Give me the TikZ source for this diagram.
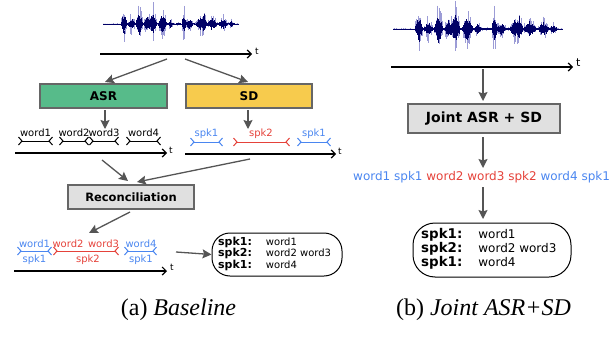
\documentclass[tikz,border=0pt]{standalone}
\usepackage{fontspec}
\setmainfont{DejaVu Sans}
\newfontfamily\capfont{Liberation Serif}
\usetikzlibrary{arrows.meta,positioning}
\definecolor{spkblue}{HTML}{4A86F0}
\definecolor{spkred}{HTML}{E5423A}
\definecolor{asrgreen}{HTML}{57BB8A}
\definecolor{sdyellow}{HTML}{F7CB4D}
\definecolor{recgray}{HTML}{E0E0E0}
\definecolor{boxgray}{HTML}{666666}
\definecolor{flowgray}{HTML}{555555}
\definecolor{wavelight}{HTML}{9C9CD6}
\definecolor{wavedark}{HTML}{000066}
\tikzset{
  flow/.style={draw=flowgray, line width=1.3pt, -{Stealth[length=9pt,width=9pt,inset=1.5pt]}},
  timeaxis/.style={line width=1.2pt, -{Straight Barb[length=4pt,width=8pt]}},
  seg/.style={line width=1pt, {Straight Barb[reversed,length=3.5pt,width=8pt]}-{Straight Barb[reversed,length=3.5pt,width=8pt]}},
  stagebox/.style={draw=boxgray, line width=1.2pt, minimum height=24pt, inner sep=0pt, font=\bfseries\fontsize{12}{14}\selectfont},
  lbl/.style={inner sep=0pt, anchor=base, font=\fontsize{10}{12}\selectfont},
  tlbl/.style={inner sep=0pt, anchor=west, font=\fontsize{9}{11}\selectfont},
  resbox/.style={draw, line width=1pt, rounded corners=18pt},
  capnode/.style={inner sep=0pt, anchor=base, font=\capfont\fontsize{24}{28}\selectfont}
}
% one speech signal, drawn in a unit box
\newcommand\speechwave{%
  \pgfmathsetseed{42}%
  \foreach \i in {0,...,200}{%
    \pgfmathsetmacro\x{\i/200}%
    \pgfmathsetmacro\e{min(1,0.03+0.05*(\x>0.13)*(\x<0.97)
      +max(0,1-abs(\x-0.155)/0.025)
      +0.45*max(0,1-abs(\x-0.21)/0.03)
      +max(0,1-abs(\x-0.27)/0.03)
      +0.6*max(0,1-abs(\x-0.33)/0.03)
      +max(0,1-abs(\x-0.37)/0.03)
      +0.9*max(0,1-abs(\x-0.44)/0.035)
      +0.3*max(0,1-abs(\x-0.5)/0.02)
      +max(0,1-abs(\x-0.6)/0.015)
      +0.4*max(0,1-abs(\x-0.64)/0.03)
      +0.6*max(0,1-abs(\x-0.72)/0.03)
      +0.9*max(0,1-abs(\x-0.75)/0.02)
      +0.5*max(0,1-abs(\x-0.81)/0.04)
      +0.45*max(0,1-abs(\x-0.89)/0.035)
      +0.25*max(0,1-abs(\x-0.95)/0.02))}%
    \pgfmathsetmacro\ra{rnd}%
    \pgfmathsetmacro\rb{rnd}%
    \pgfmathsetmacro\up{\e*(0.25+0.75*\ra*\ra)}%
    \pgfmathsetmacro\dn{\e*(0.25+0.75*\rb*\rb)}%
    \pgfmathsetmacro\dup{0.5*\e*(0.5+0.5*rnd)}%
    \pgfmathsetmacro\ddn{0.5*\e*(0.5+0.5*rnd)}%
    \draw[wavelight, line width=0.8pt] (\x,-\up) -- (\x,\dn);
    \draw[wavedark, line width=0.8pt] (\x,-\dup) -- (\x,\ddn);
  }}

\begin{document}
\begin{tikzpicture}[x=1pt, y=-1pt]
  \useasboundingbox (0,0) rectangle (616,356);

  % (a) baseline
  \begin{scope}[shift={(103,24)}, xscale=135, yscale=22]
    \speechwave
  \end{scope}
  \coordinate (axAs) at (100,54);
  \coordinate (axAe) at (252,54);
  \draw[timeaxis] (axAs) -- (axAe);
  \node[tlbl] (tA) at (255,51) {t};

  \node[stagebox, fill=asrgreen, minimum width=127pt] (asr) at (103.5,96) {ASR};
  \node[stagebox, fill=sdyellow, minimum width=126pt] (sd) at (249,96) {SD};
  \coordinate (splitL) at (167,59);
  \coordinate (splitR) at (185,59);
  \coordinate (asrIn) at (105,82);
  \coordinate (sdIn) at (248,82);
  \draw[flow] (splitL) -- (asrIn);
  \draw[flow] (splitR) -- (sdIn);

  % ASR words
  \coordinate (asrS) at (105,110);
  \coordinate (sdS) at (248,110);
  \coordinate (asrOut) at (105,129);
  \coordinate (sdOut) at (248,129);
  \draw[flow] (asrS) -- (asrOut);
  \draw[flow] (sdS) -- (sdOut);

  \coordinate (w1a) at (18,141);  \coordinate (w1b) at (53,141);
  \coordinate (w2a) at (59,141);  \coordinate (w2b) at (89,141);
  \coordinate (w3a) at (89,141);  \coordinate (w3b) at (119,141);
  \coordinate (w4a) at (126,141); \coordinate (w4b) at (161,141);
  \draw[seg] (w1a) -- (w1b);
  \draw[seg] (w2a) -- (w2b);
  \draw[seg] (w3a) -- (w3b);
  \draw[seg] (w4a) -- (w4b);
  \node[lbl] (w1) at (35.5,136) {word1};
  \node[lbl] (w2) at (74,136) {word2};
  \node[lbl] (w3) at (104,136) {word3};
  \node[lbl] (w4) at (143.5,136) {word4};
  \coordinate (axBs) at (15,153);
  \coordinate (axBe) at (167,153);
  \draw[timeaxis] (axBs) -- (axBe);
  \node[tlbl] (tB) at (169,150) {t};

  % SD speakers
  \coordinate (s1a) at (190,142); \coordinate (s1b) at (223,142);
  \coordinate (s2a) at (233,142); \coordinate (s2b) at (290,142);
  \coordinate (s3a) at (297,142); \coordinate (s3b) at (331,142);
  \draw[seg, spkblue] (s1a) -- (s1b);
  \draw[seg, spkred] (s2a) -- (s2b);
  \draw[seg, spkblue] (s3a) -- (s3b);
  \node[lbl, text=spkblue] (s1) at (206.5,136) {spk1};
  \node[lbl, text=spkred] (s2) at (261,136) {spk2};
  \node[lbl, text=spkblue] (s3) at (314,136) {spk1};
  \coordinate (axCs) at (185,154);
  \coordinate (axCe) at (336,154);
  \draw[timeaxis] (axCs) -- (axCe);
  \node[tlbl] (tC) at (338,151) {t};

  % reconciliation
  \node[stagebox, fill=recgray, minimum width=126pt, font=\bfseries\fontsize{11.5}{14}\selectfont] (rec) at (131,197) {Reconciliation};
  \coordinate (fromW) at (102,160);
  \coordinate (toRecL) at (128,181);
  \coordinate (fromS) at (250,159);
  \coordinate (toRecR) at (137,182);
  \draw[flow] (fromW) -- (toRecL);
  \draw[flow] (fromS) -- (toRecR);
  \coordinate (recOut) at (130,212);
  \coordinate (finIn) at (89,233);
  \draw[flow] (recOut) -- (finIn);

  \coordinate (f1a) at (17,251);  \coordinate (f1b) at (52,251);
  \coordinate (f2a) at (53,251);  \coordinate (f2b) at (119,251);
  \coordinate (f3a) at (124,251); \coordinate (f3b) at (157,251);
  \draw[seg, spkblue] (f1a) -- (f1b);
  \draw[seg, spkred] (f2a) -- (f2b);
  \draw[seg, spkblue] (f3a) -- (f3b);
  \node[lbl, text=spkblue] (fw1) at (34.5,247) {word1};
  \node[lbl, text=spkred] (fw2) at (68,247) {word2};
  \node[lbl, text=spkred] (fw3) at (103.5,247) {word3};
  \node[lbl, text=spkblue] (fw4) at (141,247) {word4};
  \node[lbl, text=spkblue] (fs1) at (34.5,262) {spk1};
  \node[lbl, text=spkred] (fs2) at (88,262) {spk2};
  \node[lbl, text=spkblue] (fs3) at (141,262) {spk1};
  \coordinate (axDs) at (14,271);
  \coordinate (axDe) at (167,271);
  \draw[timeaxis] (axDs) -- (axDe);
  \node[tlbl] (tD) at (170,267) {t};

  \node[resbox, minimum width=130pt, minimum height=43pt] (resA) at (277,254.5) {};
  \node[inner sep=0pt, anchor=west] (resAtxt) at (218,254) {\fontsize{10}{10.5}\selectfont
    \begin{tabular}{@{}l@{\hspace{14pt}}l@{}}
      \fontsize{11}{10.5}\selectfont\bfseries spk1: & word1\\
      \fontsize{11}{10.5}\selectfont\bfseries spk2: & word2 word3\\
      \fontsize{11}{10.5}\selectfont\bfseries spk1: & word4
    \end{tabular}};
  \coordinate (finOut) at (176,252);
  \draw[flow] (finOut) -- (resA.west);

  \node[capnode] (capA) at (178.5,315) {(a) \textit{Baseline}};

  % (b) joint
  \begin{scope}[shift={(393,29)}, xscale=169, yscale=28]
    \speechwave
  \end{scope}
  \coordinate (axEs) at (391,67);
  \coordinate (axEe) at (573,67);
  \draw[timeaxis] (axEs) -- (axEe);
  \node[tlbl, font=\fontsize{11}{13}\selectfont] (tE) at (576,63) {t};

  \node[stagebox, fill=recgray, minimum width=152pt, minimum height=29pt, font=\bfseries\fontsize{14}{16}\selectfont] (joint) at (484,118.5) {Joint ASR + SD};
  \coordinate (jointIn) at (483,69);
  \coordinate (jointTop) at (483,101);
  \draw[flow] (jointIn) -- (jointTop);

  \node[anchor=west, inner sep=0pt, font=\fontsize{12}{14}\selectfont] (seq) at (353,177)
    {\textcolor{spkblue}{word1 spk1} \textcolor{spkred}{word2 word3 spk2} \textcolor{spkblue}{word4 spk1}};
  \coordinate (jointOut) at (483,137);
  \coordinate (seqIn) at (483,168);
  \draw[flow] (jointOut) -- (seqIn);

  \node[resbox, rounded corners=22pt, minimum width=158pt, minimum height=54pt] (resB) at (492,250) {};
  \node[inner sep=0pt, anchor=west] (resBtxt) at (421,249.5) {\fontsize{12}{13.5}\selectfont
    \begin{tabular}{@{}l@{\hspace{16pt}}l@{}}
      \fontsize{13.4}{13.5}\selectfont\bfseries spk1: & word1\\
      \fontsize{13.4}{13.5}\selectfont\bfseries spk2: & word2 word3\\
      \fontsize{13.4}{13.5}\selectfont\bfseries spk1: & word4
    \end{tabular}};
  \coordinate (seqOut) at (483,187);
  \coordinate (resBTop) at (483,219);
  \draw[flow] (seqOut) -- (resBTop);

  \node[capnode] (capB) at (483.5,315) {(b) \textit{Joint ASR+SD}};
\end{tikzpicture}
\end{document}
